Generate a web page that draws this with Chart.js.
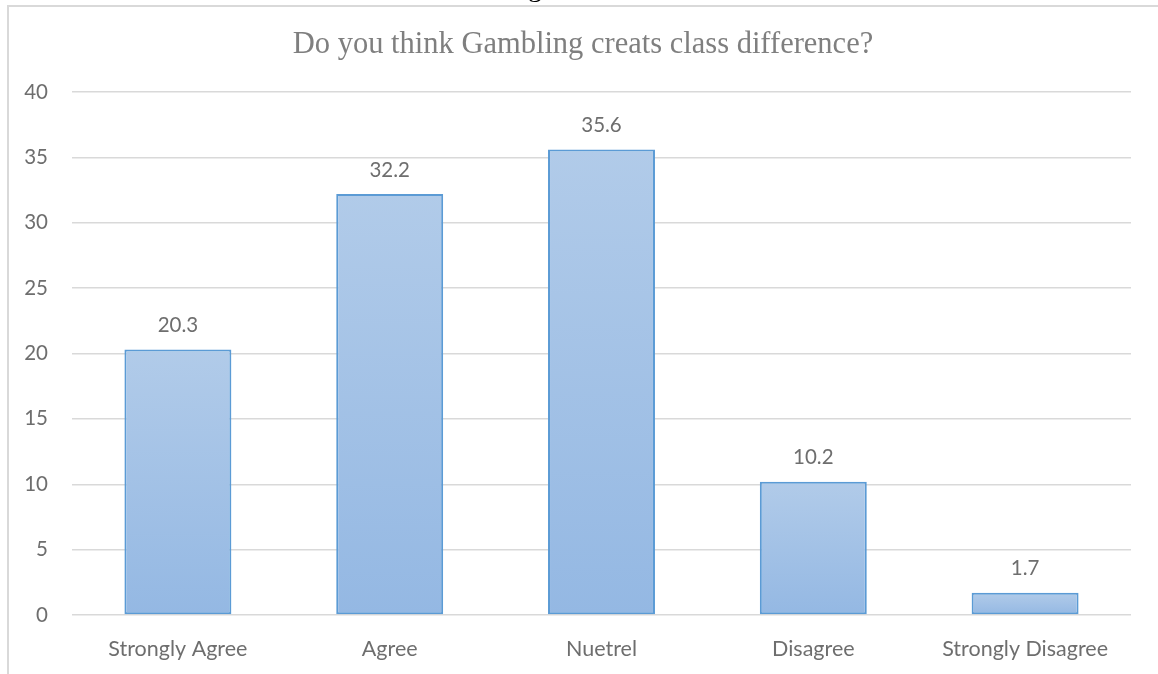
<!DOCTYPE html>
<html>
<head>
<meta charset="utf-8">
<script src="https://cdn.jsdelivr.net/npm/chart.js@4"></script>
<style>
  html, body { margin: 0; padding: 0; background: #fff; overflow: hidden; }
  #wrap { position: relative; width: 1158px; height: 674px; }
  #cut { position: absolute; left: 528px; top: -29px; font: 28px 'Liberation Serif', serif; color: #000; }
</style>
</head>
<body>
<div id="wrap">
  <canvas id="grafica" width="1158" height="674"></canvas>
  <div id="cut">g</div>
</div>
<script>
// Datos
const titulo = 'Do you think Gambling creats class difference?'
const categorias = ['Strongly Agree', 'Agree', 'Nuetrel', 'Disagree', 'Strongly Disagree']
const porcentajes = [20.3, 32.2, 35.6, 10.2, 1.7]
const ticksY = [0, 5, 10, 15, 20, 25, 30, 35, 40]

const GRIS = '#6e6e6e'
const LINEA = '#d9d9d9'

// marco gris arriba y a la izquierda + titulo centrado en el marco
const marco = {
  id: 'marco',
  beforeDraw(chart) {
    const ctx = chart.ctx
    ctx.save()
    ctx.strokeStyle = LINEA
    ctx.lineWidth = 2
    ctx.beginPath()
    ctx.moveTo(8, chart.height)
    ctx.lineTo(8, 6)
    ctx.lineTo(chart.width, 6)
    ctx.stroke()

    ctx.font = "30.5px 'Liberation Serif', serif"
    ctx.fillStyle = '#7f7f7f'
    ctx.textAlign = 'center'
    ctx.textBaseline = 'alphabetic'
    ctx.fillText(titulo, (8 + chart.width) / 2, 53)
    ctx.restore()
  }
}

// valores encima de cada barra
const etiquetas = {
  id: 'etiquetas',
  afterDatasetsDraw(chart) {
    const ctx = chart.ctx
    const meta = chart.getDatasetMeta(0)
    ctx.save()
    ctx.font = "20.5px Lato, sans-serif"
    ctx.fillStyle = GRIS
    ctx.textAlign = 'center'
    ctx.textBaseline = 'middle'
    meta.data.forEach(function(bar, i) {
      ctx.fillText(porcentajes[i].toFixed(1), bar.x, bar.y - 24)
    })
    ctx.restore()
  }
}

// degradado de cada barra, claro arriba y mas oscuro abajo
function relleno(context) {
  const chart = context.chart
  const y = chart.scales.y
  if (!chart.chartArea || !y) return '#a3c2e6'
  const v = context.raw
  const top = y.getPixelForValue(v)
  const bottom = y.getPixelForValue(0)
  const g = chart.ctx.createLinearGradient(0, top, 0, bottom)
  g.addColorStop(0, '#b1cbe9')
  g.addColorStop(1, '#94b8e3')
  return g
}

new Chart(document.getElementById('grafica'), {
  type: 'bar',
  data: {
    labels: categorias,
    datasets: [{
      data: porcentajes,
      backgroundColor: relleno,
      borderColor: '#5b9bd5',
      borderWidth: 2,
      borderSkipped: false,
      barPercentage: 0.505,
      categoryPercentage: 1,
    }]
  },
  options: {
    responsive: false,
    animation: false,
    layout: { padding: { top: 92, left: 8, right: 27, bottom: 0 } },
    plugins: {
      legend: { display: false },
      tooltip: { enabled: false },
      title: { display: false }
    },
    scales: {
      y: {
        min: 0,
        max: 40,
        afterBuildTicks: function(scale) { scale.ticks = ticksY.map(function(v) { return { value: v } }) },
        afterFit: function(scale) { scale.width = 64 },
        ticks: { padding: 24, color: GRIS, font: { family: 'Lato, sans-serif', size: 20.5 } },
        grid: { color: LINEA, lineWidth: 1.5, drawTicks: false },
        border: { display: false }
      },
      x: {
        afterFit: function(scale) { scale.height = 59 },
        ticks: { padding: 13, color: GRIS, font: { family: 'Lato, sans-serif', size: 21.5 } },
        grid: { display: false },
        border: { display: false }
      }
    }
  },
  plugins: [marco, etiquetas]
})
</script>
</body>
</html>
